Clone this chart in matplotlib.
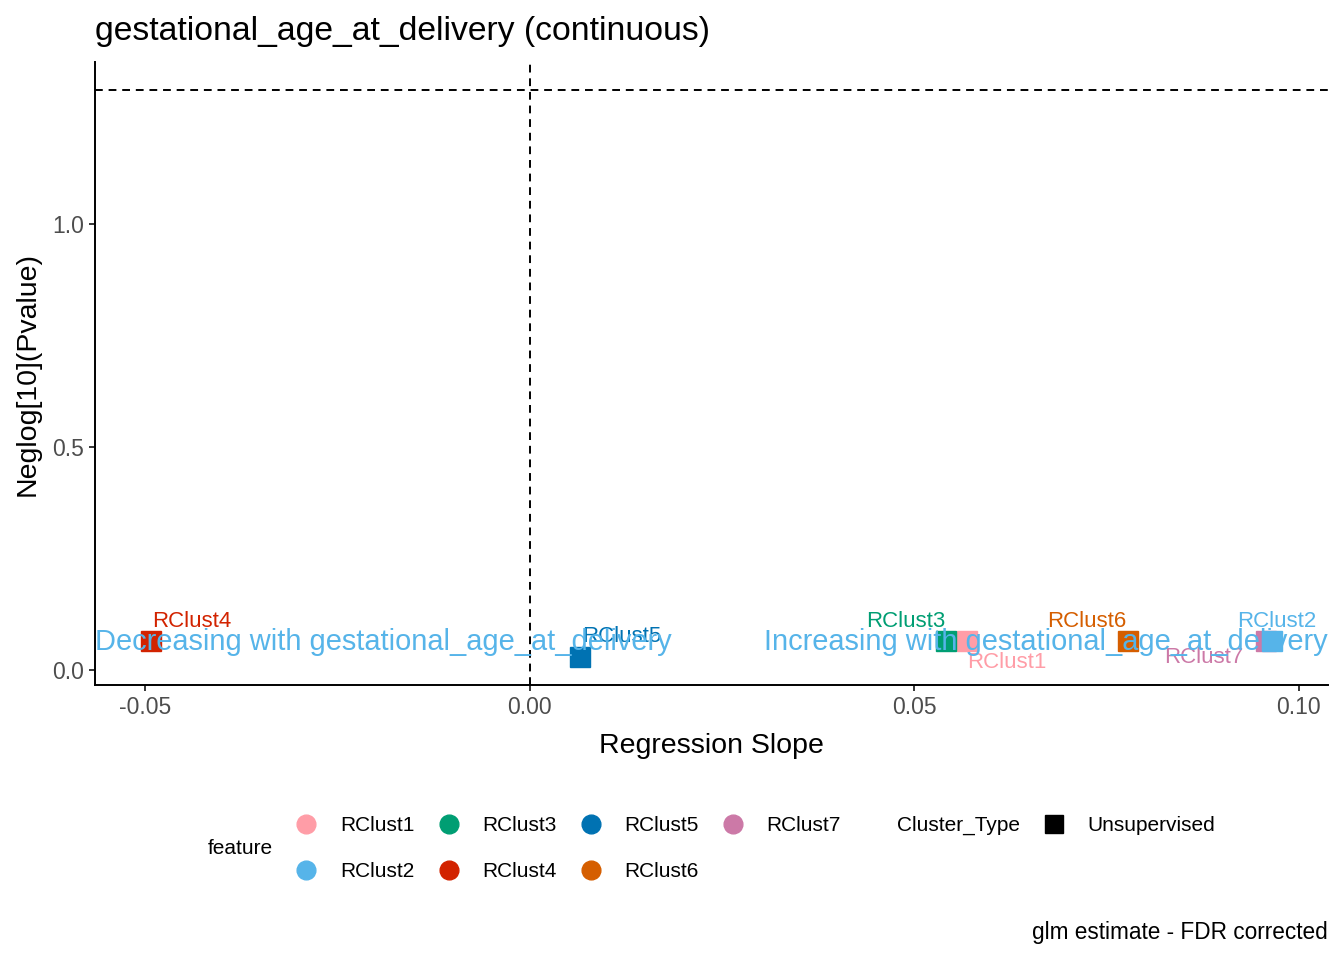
import matplotlib
matplotlib.use("Agg")
import matplotlib.pyplot as plt
from matplotlib.lines import Line2D
import numpy as np

plt.rcParams['font.family'] = ['Liberation Sans', 'DejaVu Sans']

# data
features = ["RClust1", "RClust2", "RClust3", "RClust4", "RClust5", "RClust6", "RClust7"]
slopes = [0.0568, 0.0965, 0.0541, -0.0492, 0.0066, 0.0778, 0.0957]
neglog_p = [0.065, 0.065, 0.065, 0.065, 0.029, 0.065, 0.065]
cluster_type = "Unsupervised"
sig_line = -np.log10(0.05)

COLORS = {
    "RClust1": "#FF9DA7",
    "RClust2": "#56B4E9",
    "RClust3": "#009E73",
    "RClust4": "#D22300",
    "RClust5": "#0072B2",
    "RClust6": "#D55E00",
    "RClust7": "#CC79A7",
}
# repel-like label offsets (points)
LABEL_OFFSETS = {
    "RClust1": (29, -15.8),
    "RClust2": (3.6, 13.7),
    "RClust3": (-29, 13.7),
    "RClust4": (29, 13.7),
    "RClust5": (29.5, 14.4),
    "RClust6": (-29.5, 13.7),
    "RClust7": (-44.6, -12.2),
}

fig = plt.figure(figsize=(13.44, 9.6), dpi=100)
ax = fig.add_axes([95/1344, 1-685/960, (1328-95)/1344, (685-62)/960])

for f, x, y in zip(features, slopes, neglog_p):
    # RClust2 sits on top of RClust7 in the reference
    z = 3.5 if f == "RClust2" else 3
    ax.plot(x, y, marker='s', markersize=13.7, color=COLORS[f], linestyle='none', zorder=z)
    dx, dy = LABEL_OFFSETS[f]
    ax.annotate(f, (x, y), xytext=(dx, dy), textcoords='offset points',
                ha='center', va='center', fontsize=16, color=COLORS[f], zorder=4)

ax.axvline(0, color='black', linestyle=(0, (4, 3)), linewidth=1.4, zorder=1)
ax.axhline(sig_line, color='black', linestyle=(0, (4, 3)), linewidth=1.4, zorder=1)

ax.text(0.0, 0.063, "Decreasing with gestational_age_at_delivery", transform=ax.get_yaxis_transform(),
        ha='left', va='center', fontsize=20.9, color="#56B4E9", zorder=5)
ax.text(1.0, 0.063, "Increasing with gestational_age_at_delivery", transform=ax.get_yaxis_transform(),
        ha='right', va='center', fontsize=20.9, color="#56B4E9", zorder=5)

# ggplot style 5% expansion
xr = max(slopes) - min(slopes)
ax.set_xlim(min(slopes) - 0.05*xr, max(slopes) + 0.05*xr)
ylo, yhi = min(neglog_p), sig_line
yr = yhi - ylo
ax.set_ylim(ylo - 0.05*yr, yhi + 0.05*yr)

ax.set_xticks([-0.05, 0.0, 0.05, 0.10])
ax.set_xticklabels(["-0.05", "0.00", "0.05", "0.10"])
ax.set_yticks([0.0, 0.5, 1.0])
ax.set_yticklabels(["0.0", "0.5", "1.0"])
ax.tick_params(axis='both', labelsize=16.5, labelcolor='#4D4D4D', length=4, width=1.1, direction='out', pad=4)
for s in ['top', 'right']:
    ax.spines[s].set_visible(False)
for s in ['left', 'bottom']:
    ax.spines[s].set_linewidth(1.4)

ax.set_xlabel("Regression Slope", fontsize=20.5, labelpad=10)
ax.set_ylabel("Neglog[10](Pvalue)", fontsize=20.5, labelpad=8)
ax.set_title("gestational_age_at_delivery (continuous)", fontsize=24.3, loc='left', pad=16)

# legends
feat_handles = [Line2D([], [], marker='o', linestyle='none', markersize=13.5, color=COLORS[f]) for f in features]
leg1 = fig.legend(feat_handles, features, loc='upper left', bbox_to_anchor=(296/1344, 1-816/960),
                  ncol=4, frameon=False, fontsize=15, handlelength=1.0, handletextpad=1.1,
                  columnspacing=1.15, labelspacing=1.3, borderpad=0, borderaxespad=0)
fig.text(208/1344, 1-849/960, "feature", fontsize=15, ha='left', va='center')
fig.text(897/1344, 1-825/960, "Cluster_Type", fontsize=15, ha='left', va='center')
type_handle = [Line2D([], [], marker='s', linestyle='none', markersize=13.5, color='black')]
fig.legend(type_handle, [cluster_type], loc='upper left', bbox_to_anchor=(1044/1344, 1-816/960),
           frameon=False, fontsize=15, handlelength=1.0, handletextpad=1.1, borderpad=0, borderaxespad=0)

fig.text(1328/1344, 1-933/960, "glm estimate - FDR corrected", fontsize=16.3, ha='right', va='center')

fig.savefig("out.png", dpi=100)
